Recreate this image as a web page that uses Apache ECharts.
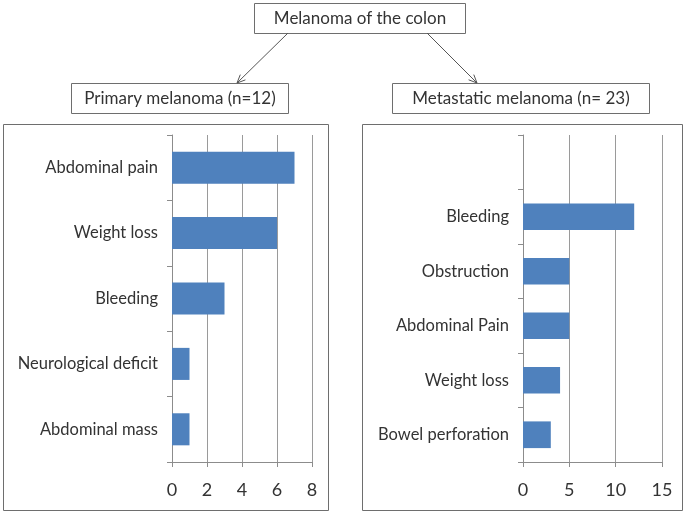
<!DOCTYPE html>
<html><head><meta charset="utf-8">
<script src="https://cdn.jsdelivr.net/npm/echarts@6/dist/echarts.min.js"></script>
<style>html,body{margin:0;padding:0;background:#fff}#c{width:685px;height:513px}</style>
</head><body><div id="c"></div>
<script>
var primaryCategories = ['Abdominal pain', 'Weight loss', 'Bleeding', 'Neurological deficit', 'Abdominal mass'];
var primaryValues = [7, 6, 3, 1, 1];
var metaCategories = ['', 'Bleeding', 'Obstruction', 'Abdominal Pain', 'Weight loss', 'Bowel perforation'];
var metaValues = [null, 12, 5, 5, 4, 3];
var titleText = 'Melanoma of the colon';
var primaryTitle = 'Primary melanoma (n=12)';
var metaTitle = 'Metastatic melanoma (n= 23)';

var FONT = 'Lato';
var TXT = '#333333';
var BOX = '#6e6e6e';
var BAR = '#4F81BD';

function arrow(x1, y1, x2, y2) {
  var a = Math.atan2(y2 - y1, x2 - x1), L = 9, s = 0.42;
  return [
    {type: 'line', shape: {x1: x1, y1: y1, x2: x2, y2: y2}, style: {stroke: '#555', lineWidth: 1}},
    {type: 'polyline', shape: {points: [
      [x2 - L * Math.cos(a - s), y2 - L * Math.sin(a - s)], [x2, y2],
      [x2 - L * Math.cos(a + s), y2 - L * Math.sin(a + s)]]},
      style: {stroke: '#555', lineWidth: 1, fill: null}}
  ];
}
function box(x, y, w, h) {
  return {type: 'rect', shape: {x: x + 0.5, y: y + 0.5, width: w, height: h},
    style: {fill: null, stroke: BOX, lineWidth: 1}, z: 0};
}
function label(text, cx, cy, size) {
  return {type: 'text', x: cx, y: cy, style: {text: text, fill: TXT, font: size + 'px ' + FONT,
    align: 'center', verticalAlign: 'middle'}};
}

var graphics = [
  box(254, 3, 211, 30), label(titleText, 360, 18.5, 17),
  box(71, 83, 217, 30), label(primaryTitle, 180, 98.5, 17),
  box(392, 83, 257, 30), label(metaTitle, 521, 98.5, 17),
  box(3, 124, 325, 386), box(362, 124, 320, 386)
].concat(arrow(288, 33, 237, 83)).concat(arrow(427, 33, 477, 83));

function catAxis(idx, cats) {
  return {type: 'category', gridIndex: idx, data: cats, inverse: true,
    axisLine: {show: true, lineStyle: {color: '#8c8c8c'}},
    axisTick: {show: true, length: 5, lineStyle: {color: '#8c8c8c'}},
    axisLabel: {color: TXT, fontFamily: FONT, fontSize: 16.5, margin: 14}};
}
function valAxis(idx, max, interval) {
  return {type: 'value', gridIndex: idx, min: 0, max: max, interval: interval,
    axisLine: {show: true, lineStyle: {color: '#8c8c8c'}},
    axisTick: {show: true, length: 5, lineStyle: {color: '#8c8c8c'}},
    splitLine: {show: true, lineStyle: {color: '#9a9a9a'}},
    axisLabel: {color: TXT, fontFamily: FONT, fontSize: 18, margin: 19}};
}

var chart = echarts.init(document.getElementById('c'), null, {renderer: 'canvas'});
chart.setOption({
  animation: false,
  grid: [
    {left: 172, right: 373, top: 135, bottom: 51},
    {left: 523, right: 23, top: 135, bottom: 51}
  ],
  xAxis: [valAxis(0, 8, 2), valAxis(1, 15, 5)],
  yAxis: [catAxis(0, primaryCategories), catAxis(1, metaCategories)],
  series: [
    {type: 'bar', xAxisIndex: 0, yAxisIndex: 0, data: primaryValues, barCategoryGap: '51%', itemStyle: {color: BAR}},
    {type: 'bar', xAxisIndex: 1, yAxisIndex: 1, data: metaValues, barCategoryGap: '51%', itemStyle: {color: BAR}}
  ],
  graphic: graphics
});
</script></body></html>
